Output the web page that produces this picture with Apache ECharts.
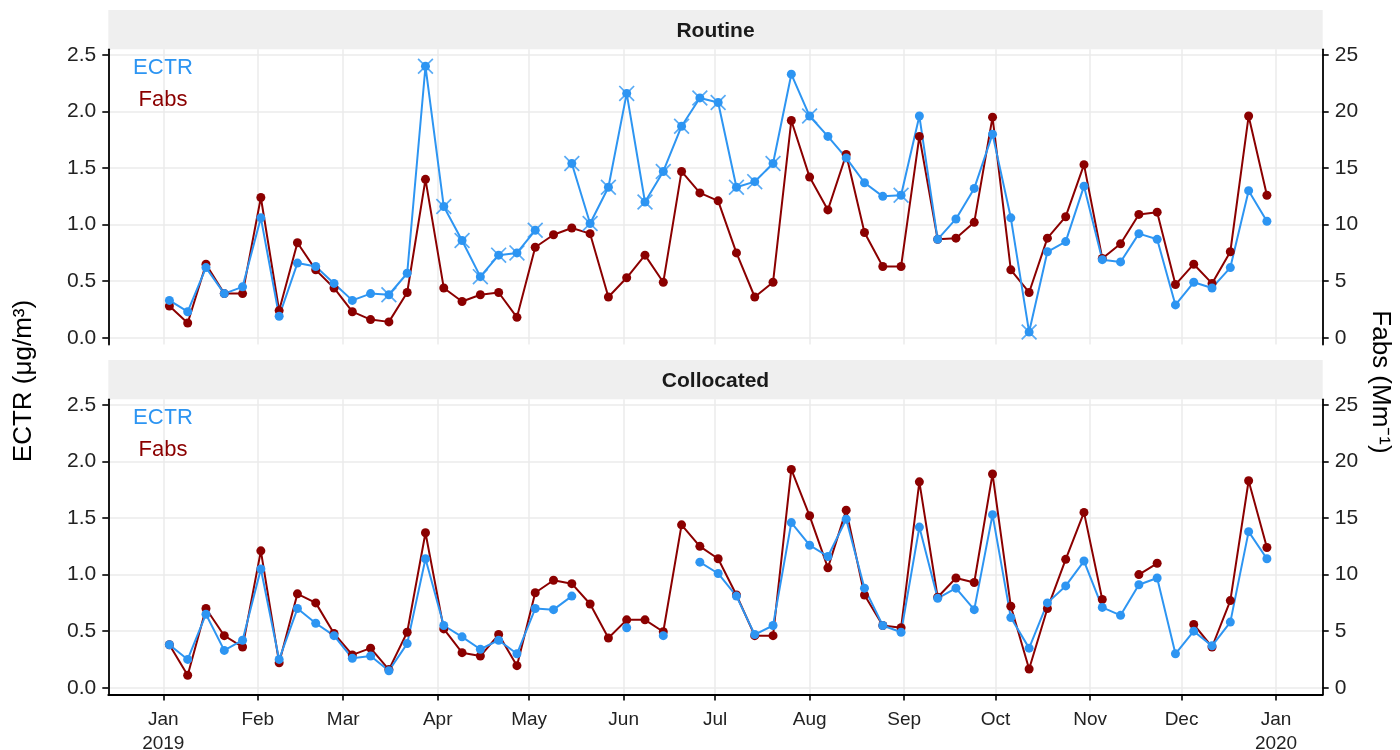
<!DOCTYPE html>
<html>
<head>
<meta charset="utf-8">
<title>ECTR and Fabs, 2019</title>
<script src="https://cdn.jsdelivr.net/npm/echarts@6/dist/echarts.min.js"></script>
<style>
  html, body { margin: 0; padding: 0; background: #ffffff; }
  #chart { width: 1400px; height: 750px; }
</style>
</head>
<body>
<div id="chart"></div>
<script>
// Sampling days (1-in-6 day schedule)
const sampleDates = [
  '2019-01-03','2019-01-09','2019-01-15','2019-01-21','2019-01-27',
  '2019-02-02','2019-02-08','2019-02-14','2019-02-20','2019-02-26',
  '2019-03-04','2019-03-10','2019-03-16','2019-03-22','2019-03-28',
  '2019-04-03','2019-04-09','2019-04-15','2019-04-21','2019-04-27',
  '2019-05-03','2019-05-09','2019-05-15','2019-05-21','2019-05-27',
  '2019-06-02','2019-06-08','2019-06-14','2019-06-20','2019-06-26',
  '2019-07-02','2019-07-08','2019-07-14','2019-07-20','2019-07-26',
  '2019-08-01','2019-08-07','2019-08-13','2019-08-19','2019-08-25','2019-08-31',
  '2019-09-06','2019-09-12','2019-09-18','2019-09-24','2019-09-30',
  '2019-10-06','2019-10-12','2019-10-18','2019-10-24','2019-10-30',
  '2019-11-05','2019-11-11','2019-11-17','2019-11-23','2019-11-29',
  '2019-12-05','2019-12-11','2019-12-17','2019-12-23','2019-12-29'
];

// Routine site: ECTR (ug/m3) and Fabs (Mm-1)
const routineEctr = [
  0.33, 0.23, 0.62, 0.39, 0.45,
  1.06, 0.19, 0.66, 0.63, 0.48,
  0.33, 0.39, 0.38, 0.57, 2.40,
  1.16, 0.86, 0.54, 0.73, 0.75,
  0.95, null, 1.54, 1.01, 1.33,
  2.16, 1.20, 1.47, 1.87, 2.12,
  2.08, 1.33, 1.38, 1.54, 2.33,
  1.96, 1.78, 1.59, 1.37, 1.25, 1.26,
  1.96, 0.87, 1.05, 1.32, 1.80,
  1.06, 0.05, 0.76, 0.85, 1.34,
  0.69, 0.67, 0.92, 0.87, 0.29,
  0.49, 0.44, 0.62, 1.30, 1.03
];
const routineFabs = [
  2.8, 1.3, 6.5, 3.9, 3.9,
  12.4, 2.4, 8.4, 6.0, 4.4,
  2.3, 1.6, 1.4, 4.0, 14.0,
  4.4, 3.2, 3.8, 4.0, 1.8,
  8.0, 9.1, 9.7, 9.2, 3.6,
  5.3, 7.3, 4.9, 14.7, 12.8,
  12.1, 7.5, 3.6, 4.9, 19.2,
  14.2, 11.3, 16.2, 9.3, 6.3, 6.3,
  17.8, 8.7, 8.8, 10.2, 19.5,
  6.0, 4.0, 8.8, 10.7, 15.3,
  7.0, 8.3, 10.9, 11.1, 4.7,
  6.5, 4.8, 7.6, 19.6, 12.6
];
// Routine ECTR samples carrying a flag (drawn with an extra cross)
const routineFlagged = [
  '2019-03-16','2019-03-28','2019-04-03','2019-04-09','2019-04-15',
  '2019-04-21','2019-04-27','2019-05-03','2019-05-15','2019-05-21',
  '2019-05-27','2019-06-02','2019-06-08','2019-06-14','2019-06-20',
  '2019-06-26','2019-07-02','2019-07-08','2019-07-14','2019-07-20',
  '2019-08-01','2019-08-31','2019-10-12'
];

// Collocated site
const collocatedEctr = [
  0.38, 0.25, 0.65, 0.33, 0.42,
  1.05, 0.25, 0.70, 0.57, 0.46,
  0.26, 0.28, 0.15, 0.39, 1.14,
  0.55, 0.45, 0.34, 0.42, 0.30,
  0.70, 0.69, 0.81, null, null,
  0.53, null, 0.46, null, 1.11,
  1.01, 0.81, 0.47, 0.55, 1.46,
  1.26, 1.16, 1.49, 0.88, 0.55, 0.49,
  1.42, 0.79, 0.88, 0.69, 1.53,
  0.62, 0.35, 0.75, 0.90, 1.12,
  0.71, 0.64, 0.91, 0.97, 0.30,
  0.50, 0.37, 0.58, 1.38, 1.14
];
const collocatedFabs = [
  3.8, 1.1, 7.0, 4.6, 3.6,
  12.1, 2.2, 8.3, 7.5, 4.8,
  2.9, 3.5, 1.6, 4.9, 13.7,
  5.2, 3.1, 2.8, 4.7, 1.95,
  8.4, 9.5, 9.2, 7.4, 4.4,
  6.0, 6.0, 4.95, 14.4, 12.5,
  11.4, 8.2, 4.6, 4.6, 19.3,
  15.2, 10.6, 15.7, 8.2, 5.5, 5.3,
  18.2, 8.0, 9.7, 9.3, 18.9,
  7.2, 1.65, 7.0, 11.35, 15.5,
  7.8, null, 10.0, 11.0, null,
  5.6, 3.6, 7.7, 18.3, 12.4
];

// Axis ticks
const monthStarts = [0, 31, 59, 90, 120, 151, 181, 212, 243, 273, 304, 334, 365];
const monthLabels = ['Jan\n2019','Feb','Mar','Apr','May','Jun','Jul','Aug','Sep','Oct','Nov','Dec','Jan\n2020'];
const ectrTicks = [0, 0.5, 1.0, 1.5, 2.0, 2.5];
const fabsTicks = [0, 5, 10, 15, 20, 25];

const BLUE = '#2D95F2';
const RED = '#8B0000';
const GRID_GREY = '#EBEBEB';
const FONT = '"Liberation Sans", Arial, Helvetica, sans-serif';

// days since 2019-01-01
function dayOf(s) {
  const p = s.split('-').map(Number);
  return (Date.UTC(p[0], p[1] - 1, p[2]) - Date.UTC(2019, 0, 1)) / 86400000;
}
function points(values) {
  return sampleDates.map((d, i) => [dayOf(d), values[i] == null ? '-' : values[i]]);
}

const X_MIN = -18.04, X_MAX = 380.3;
const Y_MIN = -0.06, Y_MAX = 2.55;

const chart = echarts.init(document.getElementById('chart'), null, { renderer: 'canvas' });

const gridBase = { left: 108.3, right: 77.3, height: 295.2, containLabel: false, outerBoundsMode: 'none' };

function xAxis(gridIndex, showAxis) {
  return {
    type: 'value', gridIndex, min: X_MIN, max: X_MAX,
    axisLine: { show: showAxis, onZero: false, lineStyle: { color: '#000', width: 1.8 } },
    axisTick: { show: showAxis, customValues: monthStarts, length: 6, lineStyle: { color: '#000', width: 1.6 } },
    axisLabel: {
      show: showAxis, customValues: monthStarts, margin: 13,
      color: '#222', fontSize: 19, fontFamily: FONT, lineHeight: 24,
      formatter: v => { const k = monthStarts.indexOf(Math.round(v)); return k >= 0 ? monthLabels[k] : ''; }
    },
    splitLine: { show: true, lineStyle: { color: GRID_GREY, width: 1.5 } }
  };
}
function yAxis(gridIndex, side) {
  const left = side === 'left';
  const ticks = left ? ectrTicks : fabsTicks;
  const k = left ? 1 : 10;
  return {
    type: 'value', gridIndex, position: side,
    min: Y_MIN * k, max: Y_MAX * k,
    axisLine: { show: true, onZero: false, lineStyle: { color: '#000', width: 1.8 } },
    axisTick: { show: true, customValues: ticks, length: 6, lineStyle: { color: '#000', width: 1.6 } },
    axisLabel: {
      customValues: ticks, margin: 12, color: '#222', fontSize: 21, fontFamily: FONT,
      formatter: v => left ? v.toFixed(1) : String(Math.round(v))
    },
    splitLine: { show: left, lineStyle: { color: GRID_GREY, width: 1.5 } }
  };
}

function lineSeries(xi, yi, values, color) {
  return {
    type: 'line', xAxisIndex: xi, yAxisIndex: yi, data: points(values),
    symbol: 'circle', symbolSize: 9, showSymbol: true, showAllSymbol: true,
    connectNulls: false, clip: false,
    lineStyle: { color, width: 2 }, itemStyle: { color },
    emphasis: { disabled: true }, animation: false
  };
}

const CROSS = 'path://M1.5,0 L10,8.5 L18.5,0 L20,1.5 L11.5,10 L20,18.5 L18.5,20 L10,11.5 L1.5,20 L0,18.5 L8.5,10 L0,1.5 Z';

const option = {
  backgroundColor: '#ffffff',
  animation: false,
  grid: [
    Object.assign({ top: 49.3 }, gridBase),
    Object.assign({ top: 399.3 }, gridBase)
  ],
  xAxis: [xAxis(0, false), xAxis(1, true)],
  yAxis: [yAxis(0, 'left'), yAxis(0, 'right'), yAxis(1, 'left'), yAxis(1, 'right')],
  series: [
    lineSeries(0, 1, routineFabs, RED),
    lineSeries(0, 0, routineEctr, BLUE),
    {
      type: 'scatter', xAxisIndex: 0, yAxisIndex: 0,
      data: routineFlagged.map(d => [dayOf(d), routineEctr[sampleDates.indexOf(d)]]),
      symbol: CROSS, symbolSize: 16, itemStyle: { color: BLUE },
      clip: false, emphasis: { disabled: true }, z: 3
    },
    lineSeries(1, 3, collocatedFabs, RED),
    lineSeries(1, 2, collocatedEctr, BLUE)
  ],
  graphic: {
    elements: [
      { type: 'rect', silent: true, shape: { x: 108.3, y: 10, width: 1214.4, height: 39.3 }, style: { fill: '#EFEFEF' } },
      { type: 'rect', silent: true, shape: { x: 108.3, y: 360, width: 1214.4, height: 39.3 }, style: { fill: '#EFEFEF' } },
      { type: 'text', silent: true, x: 715.5, y: 31, style: { text: 'Routine', font: 'bold 21px ' + FONT, fill: '#1a1a1a', textAlign: 'center', textVerticalAlign: 'middle' } },
      { type: 'text', silent: true, x: 715.5, y: 381, style: { text: 'Collocated', font: 'bold 21px ' + FONT, fill: '#1a1a1a', textAlign: 'center', textVerticalAlign: 'middle' } },
      { type: 'text', silent: true, x: 163, y: 68, style: { text: 'ECTR', font: '22px ' + FONT, fill: BLUE, textAlign: 'center', textVerticalAlign: 'middle' } },
      { type: 'text', silent: true, x: 163, y: 100, style: { text: 'Fabs', font: '22px ' + FONT, fill: RED, textAlign: 'center', textVerticalAlign: 'middle' } },
      { type: 'text', silent: true, x: 163, y: 418, style: { text: 'ECTR', font: '22px ' + FONT, fill: BLUE, textAlign: 'center', textVerticalAlign: 'middle' } },
      { type: 'text', silent: true, x: 163, y: 450, style: { text: 'Fabs', font: '22px ' + FONT, fill: RED, textAlign: 'center', textVerticalAlign: 'middle' } },
      { type: 'text', silent: true, x: 24, y: 381, rotation: Math.PI / 2, style: { text: 'ECTR (μg/m³)', font: '26px ' + FONT, fill: '#000', textAlign: 'center', textVerticalAlign: 'middle' } },
      { type: 'text', silent: true, x: 1380, y: 382, rotation: -Math.PI / 2, style: { text: 'Fabs (Mm⁻¹)', font: '26px ' + FONT, fill: '#000', textAlign: 'center', textVerticalAlign: 'middle' } }
    ]
  }
};

chart.setOption(option);
</script>
</body>
</html>
